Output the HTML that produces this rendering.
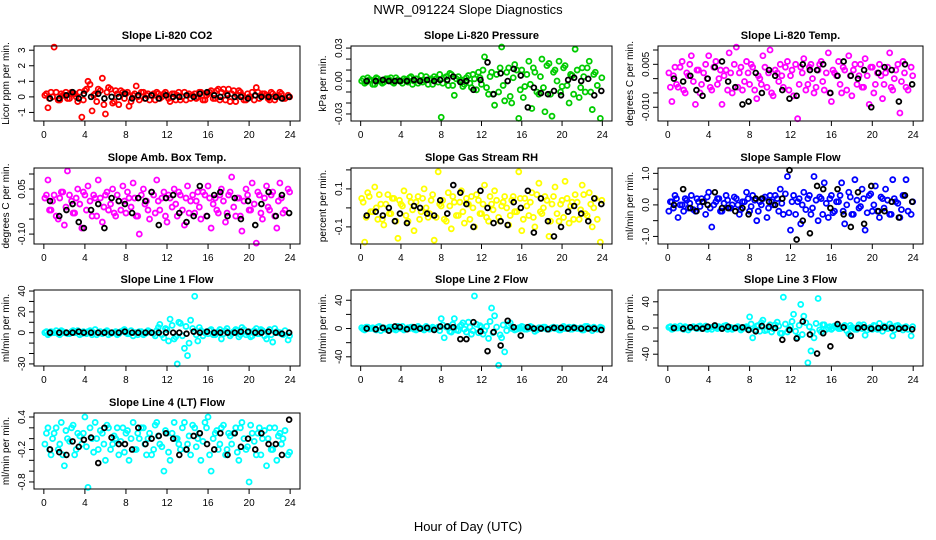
<!DOCTYPE html>
<html><head><meta charset="utf-8"><style>
body{margin:0;background:#fff}
svg{display:block;font-family:"Liberation Sans",sans-serif}
</style></head><body>
<svg id="chart" width="936" height="540" viewBox="0 0 936 540">
<text x="468" y="14" font-size="13" text-anchor="middle">NWR_091224  Slope Diagnostics</text>
<text x="468" y="531" font-size="13" text-anchor="middle">Hour of Day (UTC)</text>
</svg>
<script>
const tc=[0.1,0.4,0.7,1.0,1.4,1.7,2.0,2.3,2.7,3.0,3.3,3.7,4.0,4.3,4.7,5.0,5.3,5.7,6.0,6.3,6.7,7.0,7.3,7.7,8.0,8.3,8.7,9.0,9.3,9.7,10.0,10.3,10.7,11.0,11.3,11.7,12.0,12.3,12.7,13.0,13.3,13.7,14.0,14.3,14.7,15.0,15.3,15.7,16.0,16.3,16.7,17.0,17.3,17.7,18.0,18.3,18.7,19.0,19.3,19.7,20.0,20.3,20.7,21.0,21.3,21.7,22.0,22.3,22.7,23.0,23.3,23.8];
const tc2=[0.25,0.55,0.85,1.2,1.55,1.85,2.15,2.5,2.85,3.15,3.5,3.85,4.15,4.5,4.85,5.15,5.5,5.85,6.15,6.5,6.85,7.15,7.5,7.85,8.15,8.5,8.85,9.15,9.5,9.85,10.15,10.5,10.85,11.15,11.5,11.85,12.15,12.5,12.85,13.15,13.5,13.85,14.15,14.5,14.85,15.15,15.5,15.85,16.15,16.5,16.85,17.15,17.5,17.85,18.15,18.5,18.85,19.15,19.5,19.85,20.15,20.5,20.85,21.15,21.5,21.85,22.15,22.5,22.85,23.15,23.5,23.95];
const tb=[0.6,1.5,2.2,2.8,3.4,3.9,4.6,5.3,5.9,6.6,7.3,7.9,8.6,9.2,9.9,10.5,11.2,11.9,12.6,13.2,13.9,14.6,15.2,15.9,16.6,17.2,17.9,18.6,19.2,19.9,20.6,21.2,21.9,22.6,23.2,23.9];
const xTicks=[0,4,8,12,16,20,24];

const co2C=[0.1,-0.7,0.3,3.2,-0.2,0.2,0.1,-0.1,0.3,0.2,-0.3,-1.3,0.4,1.0,-0.9,0.2,0.5,1.2,-1.1,0.6,-0.4,0.4,-0.5,0.3,0.2,-0.6,0.1,0.7,-0.2,0.3,0.1,-0.2,0.2,0.3,-0.1,0.2,0.1,-0.3,0.2,0.1,-0.2,0.3,0.1,-0.1,0.2,0.0,0.3,-0.2,0.2,0.4,-0.1,0.5,0.3,-0.2,0.5,0.2,-0.3,0.4,0.1,-0.2,0.0,0.3,0.6,-0.1,0.2,0.1,-0.2,0.2,0.0,0.3,-0.1,0.1];
const co2D=[0.2,-0.1,0.0,0.3,-0.2,0.1,0.3,-0.1,0.2,0.0,0.3,-0.2,0.5,0.8,0.1,-0.3,0.4,-0.5,0.3,0.5,-0.3,0.2,0.4,-0.1,0.3,-0.3,0.2,0.0,0.3,-0.1,0.2,0.1,-0.2,0.2,0.0,0.3,-0.1,0.2,-0.2,0.3,0.0,-0.2,0.2,0.1,-0.1,0.3,-0.2,0.1,0.3,-0.1,0.4,-0.2,0.5,0.2,-0.3,0.4,0.1,0.3,-0.2,0.2,0.0,-0.2,0.3,0.1,0.2,-0.1,0.3,-0.2,0.1,0.2,-0.1,0.0];
const co2B=[-0.1,-0.1,0.1,0.3,-0.1,0.2,0.0,0.2,-0.1,0.0,0.0,0.2,-0.1,0.1,-0.1,0.1,-0.1,0.1,0.0,0.0,0.1,0.0,0.2,0.3,0.1,0.0,0.1,0.0,0.0,-0.1,0.1,0.0,0.0,0.0,-0.1,0.0];
const presC=[0.0,-0.002,0.003,0.001,-0.003,0.002,0.0,-0.001,0.002,0.003,-0.002,0.001,0.0,0.002,-0.001,0.004,0.0,-0.002,0.005,0.001,-0.003,0.002,0.004,-0.001,-0.033,0.003,-0.004,0.006,-0.013,0.004,0.001,-0.003,0.005,-0.006,0.002,0.008,-0.003,0.022,-0.012,0.008,-0.022,-0.01,0.031,-0.018,0.012,-0.02,0.015,-0.034,0.01,-0.005,0.018,-0.025,0.008,-0.012,0.02,-0.028,0.016,-0.032,0.01,0.018,-0.005,0.014,-0.02,0.005,0.029,-0.015,0.012,-0.01,0.018,-0.026,0.008,-0.034];
const presD=[0.002,-0.001,0.001,-0.003,0.003,0.0,-0.002,0.002,0.001,-0.001,0.003,0.0,-0.002,0.001,0.003,-0.003,0.002,0.0,-0.001,0.004,0.001,-0.003,0.002,0.006,-0.002,0.004,0.007,-0.004,0.002,0.0,-0.005,0.003,-0.002,0.006,-0.008,0.003,0.01,-0.006,0.004,-0.012,0.006,0.012,-0.004,0.008,-0.014,0.003,0.01,-0.008,-0.015,0.006,-0.003,0.012,-0.01,0.004,-0.006,0.014,-0.012,0.008,0.0,-0.01,0.012,-0.004,0.006,-0.012,0.01,-0.006,0.004,0.012,-0.01,0.006,-0.004,0.003];
const presB=[0.0,0.0,0.001,0.0,0.0,0.0,0.0,0.001,0.0,0.001,0.0,0.001,0.001,0.004,-0.001,0.0,-0.008,0.001,0.017,-0.012,0.007,0.0,0.011,0.005,-0.024,-0.006,-0.011,-0.012,-0.009,-0.013,0.001,0.003,0.0,0.002,-0.013,-0.009];
const tempC=[0.002,-0.008,0.004,-0.003,0.006,-0.005,0.001,0.008,-0.009,0.003,-0.002,0.005,0.008,-0.004,0.006,0.000,-0.009,0.003,0.009,-0.005,0.011,0.002,-0.004,0.006,-0.002,0.004,-0.007,0.0,0.008,-0.003,0.010,-0.006,0.002,0.005,-0.003,0.006,0.001,-0.006,-0.014,0.004,0.007,-0.002,0.005,-0.005,0.003,0.006,-0.004,0.009,-0.008,0.002,0.006,-0.005,0.003,0.008,-0.006,0.005,0.001,-0.003,0.007,-0.009,0.004,-0.002,0.005,-0.007,0.002,0.009,-0.004,0.003,-0.012,0.006,-0.003,0.004];
const tempD=[-0.003,0.001,-0.002,0.004,-0.004,0.002,0.005,-0.001,0.003,-0.005,0.002,0.0,-0.003,0.004,-0.002,0.003,0.001,-0.004,0.002,0.005,-0.003,0.004,-0.001,0.002,0.005,-0.004,0.001,-0.002,0.004,0.002,-0.005,0.003,-0.001,0.001,0.004,-0.004,0.003,0.005,-0.002,0.002,-0.004,0.004,0.0,-0.003,0.005,-0.001,0.002,-0.005,0.003,0.001,-0.002,0.004,-0.004,0.001,0.003,-0.002,0.005,-0.003,0.001,0.004,-0.005,0.002,0.001,-0.002,0.004,-0.003,0.0,0.005,-0.001,0.002,-0.004,0.001];
const tempB=[0.0,-0.001,0.001,-0.004,-0.006,0.0,0.004,0.006,-0.001,-0.003,-0.009,-0.008,0.002,-0.005,0.003,0.001,-0.004,-0.007,-0.006,0.005,0.003,0.003,0.005,-0.005,0.001,0.006,0.001,0.0,0.003,-0.010,0.002,0.004,0.003,-0.008,0.005,-0.002];
const ambC=[0.02,0.08,-0.02,0.03,-0.05,0.04,-0.07,0.11,0.01,-0.03,0.05,-0.08,0.03,0.06,-0.04,0.02,0.08,-0.06,0.03,-0.02,0.05,-0.04,0.01,0.06,-0.03,0.02,0.07,-0.04,-0.1,0.05,0.01,-0.05,0.03,0.08,-0.02,0.04,-0.06,0.02,0.05,-0.04,0.03,-0.07,0.06,0.01,-0.03,0.04,-0.05,0.03,0.06,-0.08,0.02,-0.03,0.05,-0.06,0.03,0.09,-0.04,0.02,-0.09,0.05,-0.02,0.07,-0.13,0.03,-0.05,0.06,-0.02,0.04,-0.08,0.07,-0.03,0.05];
const ambD=[0.03,-0.02,0.01,-0.04,0.02,0.04,-0.01,0.03,-0.03,0.02,0.0,0.04,-0.02,0.01,0.03,-0.04,0.02,-0.01,0.04,0.0,-0.03,0.03,-0.02,0.01,0.04,-0.01,0.02,-0.04,0.03,0.0,-0.02,0.04,-0.03,0.01,0.02,-0.04,0.03,-0.01,0.0,0.04,-0.02,0.02,-0.03,0.03,0.01,-0.01,0.04,-0.04,0.02,0.0,-0.02,0.03,0.01,-0.03,0.04,-0.01,0.02,-0.04,0.01,0.03,-0.02,0.0,0.04,-0.03,0.02,-0.01,0.03,-0.04,0.01,0.02,-0.02,0.04];
const ambB=[0.01,-0.04,-0.02,0.0,-0.06,-0.08,-0.02,0.0,-0.08,0.02,0.01,0.0,-0.03,0.02,0.01,0.04,-0.07,0.02,0.03,-0.03,-0.06,-0.04,0.06,-0.04,0.03,0.04,-0.04,0.02,-0.05,0.01,-0.07,0.0,0.04,-0.04,0.03,-0.03];
const rhC=[0.05,-0.18,0.08,-0.02,0.11,-0.06,0.02,-0.09,0.07,-0.03,0.05,-0.16,0.02,0.09,-0.07,0.03,-0.12,0.06,-0.02,0.1,-0.05,0.04,-0.17,0.19,0.01,-0.06,0.08,-0.11,0.03,-0.04,0.09,-0.08,0.02,0.06,-0.1,0.04,-0.03,0.12,-0.07,0.02,0.09,-0.05,0.01,0.06,-0.09,0.04,-0.02,0.19,-0.12,0.05,-0.04,0.08,-0.1,0.13,-0.03,0.06,-0.15,0.02,0.11,-0.07,0.04,0.14,-0.08,0.03,0.07,-0.06,0.12,-0.03,0.08,-0.1,0.05,-0.18];
const rhD=[0.03,-0.05,0.06,-0.02,0.0,0.07,-0.06,0.02,-0.03,0.05,-0.07,0.04,0.01,-0.04,0.06,-0.01,0.03,-0.06,0.05,0.0,-0.03,0.07,-0.05,0.02,0.04,-0.07,0.01,0.06,-0.04,0.03,-0.02,0.05,-0.06,0.0,0.07,-0.03,0.02,-0.05,0.06,-0.01,0.04,-0.07,0.03,0.0,-0.04,0.06,-0.02,0.05,-0.06,0.01,0.03,-0.05,0.07,-0.02,0.0,0.04,-0.07,0.06,-0.03,0.02,-0.05,0.05,0.01,-0.06,0.03,-0.01,0.07,-0.04,0.02,0.0,-0.06,0.04];
const rhB=[-0.04,-0.02,-0.04,0.0,-0.07,-0.03,-0.08,0.01,0.0,-0.03,-0.04,0.04,-0.03,0.12,0.08,0.02,-0.1,0.09,0.0,-0.08,-0.07,-0.09,0.03,0.0,0.09,-0.13,0.05,-0.07,-0.15,-0.1,-0.02,0.01,-0.03,-0.07,0.05,0.02];
const flowC=[-0.2,0.1,0.3,-0.4,0.0,0.2,-0.1,0.3,-0.2,0.1,0.2,-0.3,0.4,-0.7,0.1,0.2,-0.2,0.3,-0.1,0.0,0.2,-0.3,0.1,0.4,-0.2,0.3,-0.5,0.1,0.2,-0.4,0.3,0.0,0.2,0.5,-0.3,0.9,-0.8,0.3,0.1,-0.6,0.4,0.2,-0.3,0.9,-0.5,0.2,0.7,-0.4,0.3,-0.2,0.1,0.7,-0.6,0.4,-0.3,0.8,-0.1,0.5,-0.8,0.3,-0.2,0.6,-0.4,0.2,0.5,-0.3,0.8,0.1,-0.4,0.3,0.8,-0.3];
const flowD=[0.1,-0.1,0.2,0.0,-0.2,0.15,0.05,-0.15,0.2,-0.05,0.1,0.25,-0.1,0.0,0.2,-0.2,0.05,0.15,-0.1,0.25,0.0,-0.15,0.1,0.2,-0.05,0.15,-0.2,0.0,0.25,-0.1,0.1,0.3,-0.2,0.05,0.35,-0.25,0.1,-0.3,0.2,0.0,-0.15,0.3,-0.1,0.15,0.25,-0.3,0.05,0.2,-0.25,0.1,0.3,-0.2,0.0,0.25,-0.3,0.15,-0.05,0.2,-0.25,0.35,0.0,-0.2,0.25,-0.1,0.15,-0.3,0.2,0.05,-0.15,0.3,-0.2,0.1];
const flowB=[0.0,0.5,-0.1,-0.2,0.1,0.0,0.4,-0.1,-0.1,-0.2,-0.1,-0.3,0.2,0.2,0.1,0.0,0.2,1.1,-1.1,-0.5,-0.9,0.6,0.5,-0.1,0.5,-0.3,-0.7,0.4,-0.6,0.6,-0.2,-0.2,0.1,-0.4,0.3,0.1];
const l1C=[0,-2,1,0,-1,2,0,-1,1,0,2,-1,0,1,-2,3,0,-1,1,-2,0,1,-1,2,0,-1,-3,0,1,-2,0,1,-1,2,8,-5,3,13,-6,-30,9,-15,-22,12,35,-8,2,0,-1,3,-2,1,-6,2,0,-1,3,-4,5,-2,1,-3,4,-1,2,-6,3,-9,1,0,-2,-7];
const l1D=[1,-1,0,2,-2,1,0,-1,2,0,-2,1,-1,2,0,-2,1,0,2,-1,0,-2,1,3,-1,2,0,-2,1,-1,2,0,-3,5,-2,4,-8,7,-4,10,-3,6,-10,4,-2,5,-3,1,2,-2,0,3,-1,4,-3,1,2,-2,3,0,-4,2,-1,3,-3,1,-2,4,0,-1,2,-3];
const l1B=[0,0,0,0,1,0,0,0,0,0,0,1,0,0,0,0,0,0,0,0,-1,1,0,1,0,0,0,0,1,1,0,0,1,0,-1,0];
const l2C=[1,-2,2,0,-1,2,-3,1,0,2,-1,3,0,-2,1,2,-1,3,0,-2,1,0,-1,2,14,-13,3,-5,14,-3,5,-1,9,-8,46,-6,2,-3,-14,29,18,-52,-13,-33,5,0,-2,1,3,-1,0,2,-4,1,0,2,-1,1,0,-2,1,0,2,-1,1,0,-2,3,1,-3,0,2];
const l2D=[-1,2,0,1,-2,3,1,-1,2,0,-2,1,3,-1,0,2,-2,1,0,3,-1,2,0,-3,5,2,-4,6,-2,3,8,-5,2,-3,6,4,-8,3,10,-6,2,-9,5,-3,8,2,-1,0,2,-1,3,0,-2,1,2,-1,0,2,1,-2,3,0,-1,2,0,1,-2,3,0,2,-1,1];
const l2B=[0,-1,1,-3,3,2,-1,2,0,1,-2,3,3,2,-15,-15,9,-4,-32,-5,-24,11,2,-10,2,0,0,-1,1,1,0,1,0,0,0,-2];
const l3C=[1,-2,2,0,-1,2,-3,1,0,2,-1,3,0,-2,1,2,-1,4,0,-2,1,0,-1,2,17,-15,3,-5,12,-3,5,-1,9,-8,47,-6,2,21,-14,36,18,-53,-35,-15,45,-6,5,0,-2,3,-1,0,4,-9,1,-2,5,-1,-11,0,-2,3,7,-5,1,6,-12,3,1,-3,2,-12];
const l3D=[2,-1,0,3,-2,1,0,2,-1,3,0,-2,1,2,-1,0,3,-2,1,0,2,-3,1,-1,6,-3,4,8,-4,2,-6,5,3,-8,6,-2,10,-5,4,-10,8,2,-6,7,-3,5,-2,2,0,3,-1,2,-4,4,0,-2,3,5,-3,1,4,-2,0,3,-1,2,-3,4,0,1,-2,2];
const l3B=[0,-1,1,0,-1,2,4,-1,2,0,1,-3,-5,3,2,0,-18,-3,-16,10,-10,-39,-8,-28,6,1,-12,0,1,-1,0,1,0,-1,0,-2];
const l4C=[-0.1,0.2,-0.3,0.1,-0.2,0.3,-0.5,0.0,0.2,-0.3,0.1,-0.1,0.4,-0.9,0.0,0.3,-0.2,0.1,-0.4,0.2,-0.1,0.0,-0.3,0.2,0.1,-0.4,0.3,-0.2,0.0,0.2,-0.3,0.1,-0.2,0.3,-0.1,-0.6,0.1,-0.4,0.3,0.0,-0.2,0.3,-0.1,-0.3,0.2,0.0,-0.4,0.3,0.4,-0.6,0.1,-0.2,0.2,-0.3,0.1,-0.1,0.2,-0.4,0.3,-0.2,-0.8,0.1,-0.3,0.2,0.0,-0.5,0.2,-0.2,-0.4,0.1,0.0,-0.3];
const l4D=[0.1,-0.2,0.0,0.2,-0.1,-0.3,0.15,-0.05,0.25,-0.2,0.05,0.1,-0.15,0.2,-0.25,0.0,0.15,-0.1,0.25,-0.2,0.05,0.2,-0.05,-0.25,0.15,0.0,-0.2,0.1,0.2,-0.1,0.0,-0.3,0.25,0.05,-0.15,0.15,-0.25,0.1,0.0,-0.1,0.2,-0.2,0.05,0.25,-0.15,0.1,-0.05,0.2,-0.3,0.0,0.15,-0.1,0.25,-0.2,0.05,0.1,-0.25,0.2,0.0,-0.15,0.25,-0.05,0.1,-0.3,0.15,0.0,-0.2,0.2,0.05,-0.1,0.15,-0.25];
const l4B=[-0.2,-0.25,-0.3,-0.05,-0.15,-0.02,0.02,-0.45,0.2,0.02,-0.1,-0.1,-0.2,0.2,-0.1,0.0,0.05,0.1,0.0,-0.3,-0.2,0.05,0.1,-0.1,-0.2,0.1,-0.3,0.1,-0.15,0.0,-0.2,0.1,-0.1,-0.1,-0.3,0.35];

const NS='http://www.w3.org/2000/svg';
const svg=document.getElementById('chart');
function mk(tag,attrs,parent){const e=document.createElementNS(NS,tag);for(const k in attrs)e.setAttribute(k,attrs[k]);(parent||svg).appendChild(e);return e;}

const cols=[[34,300],[351,612],[658,923]];
const rows=[[46,121],[168,244],[290,366],[413,489]];
const panels=[
 {r:0,c:0,key:'co2',title:'Slope Li-820 CO2',ylab:'Licor ppm per min.',color:'#ff0000',ylim:[-1.55,3.27],yt:[-1,0,1,2,3],yl:['-1','0','1','2','3'],C:co2C,D:co2D,B:co2B},
 {r:0,c:1,key:'pressure',title:'Slope Li-820 Pressure',ylab:'kPa per min.',color:'#00cc00',ylim:[-0.0364,0.0319],yt:[-0.03,-0.02,-0.01,0,0.01,0.02,0.03],yl:['-0.03','','','0.00','','','0.03'],C:presC,D:presD,B:presB},
 {r:0,c:2,key:'temp',title:'Slope Li-820 Temp.',ylab:'degrees C per min.',color:'#ff00ff',ylim:[-0.0148,0.0114],yt:[-0.01,-0.005,0,0.005,0.01],yl:['-0.010','','','0.005',''],C:tempC,D:tempD,B:tempB},
 {r:1,c:0,key:'amb-box-temp',title:'Slope Amb. Box Temp.',ylab:'degrees C per min.',color:'#ff00ff',ylim:[-0.133,0.12],yt:[-0.1,-0.05,0,0.05,0.1],yl:['-0.10','','','0.05',''],C:ambC,D:ambD,B:ambB},
 {r:1,c:1,key:'gas-stream-rh',title:'Slope Gas Stream RH',ylab:'percent per min.',color:'#ffff00',ylim:[-0.19,0.21],yt:[-0.1,0,0.1,0.2],yl:['-0.1','','0.1',''],C:rhC,D:rhD,B:rhB},
 {r:1,c:2,key:'sample-flow',title:'Slope Sample Flow',ylab:'ml/min per min.',color:'#0000ff',ylim:[-1.24,1.17],yt:[-1,-0.5,0,0.5,1],yl:['-1.0','','0.0','','1.0'],C:flowC,D:flowD,B:flowB},
 {r:2,c:0,key:'line1-flow',title:'Slope Line 1 Flow',ylab:'ml/min per min.',color:'#00ffff',ylim:[-32,41],yt:[-30,-20,-10,0,10,20,30,40],yl:['-30','','','0','','20','','40'],C:l1C,D:l1D,B:l1B},
 {r:2,c:1,key:'line2-flow',title:'Slope Line 2 Flow',ylab:'ml/min per min.',color:'#00ffff',ylim:[-53,54.5],yt:[-40,-20,0,20,40],yl:['-40','','0','','40'],C:l2C,D:l2D,B:l2B},
 {r:2,c:2,key:'line3-flow',title:'Slope Line 3 Flow',ylab:'ml/min per min.',color:'#00ffff',ylim:[-58,58],yt:[-40,-20,0,20,40],yl:['-40','','0','','40'],C:l3C,D:l3D,B:l3B},
 {r:3,c:0,key:'line4-flow',title:'Slope Line 4 (LT) Flow',ylab:'ml/min per min.',color:'#00ffff',ylim:[-0.93,0.474],yt:[-0.8,-0.6,-0.4,-0.2,0,0.2,0.4],yl:['-0.8','','','-0.2','','','0.4'],C:l4C,D:l4D,B:l4B}
];

panels.forEach(p=>{
  const [L,R]=cols[p.c],[T,B]=rows[p.r];
  const g=mk('g',{});
  
  
  const xs=h=>L+(R-L)*(h+0.96)/25.92;
  const ys=v=>B-(B-T)*(v-p.ylim[0])/(p.ylim[1]-p.ylim[0]);
  const t=mk('text',{x:(L+R)/2,y:T-7,'font-size':11,'font-weight':'bold','text-anchor':'middle'},g);
  t.textContent=p.title;
  
  
  const cx=L-25,cy=(T+B)/2;
  const yl=mk('text',{x:cx,y:cy,'font-size':10,'text-anchor':'middle',transform:`rotate(-90 ${cx} ${cy})`},g);
  yl.textContent=p.ylab;
  
  
  const pc=mk('g',{fill:'none',stroke:p.color,'stroke-width':1.8},g);
  
  
  const n=Math.min(tc.length,p.C.length);
  for(let i=0;i<n;i++){
    const c=mk('circle',{cx:xs(tc[i]),cy:ys(p.C[i]),r:2.5},pc);
    
    
  }
  const n2=Math.min(tc2.length,p.D.length);
  for(let i=0;i<n2;i++){
    const c=mk('circle',{cx:xs(tc2[i]),cy:ys(p.D[i]),r:2.5},pc);
    
    
  }
  const pb=mk('g',{fill:'none',stroke:'#000','stroke-width':1.8},g);
  
  
  const m=Math.min(tb.length,p.B.length);
  for(let i=0;i<m;i++){
    const c=mk('circle',{cx:xs(tb[i]),cy:ys(p.B[i]),r:2.4},pb);
    
    
  }
  const box=mk('rect',{x:L,y:T,width:R-L,height:B-T,fill:'none',stroke:'#000','stroke-width':1},g);
  
  
  const xa=mk('g',{stroke:'#000','stroke-width':1},g);
  
  
  xTicks.forEach(h=>{
    const x=xs(h);
    const tk=mk('line',{x1:x,x2:x,y1:B,y2:B+5},xa);
    
    
    const lb=mk('text',{x:x,y:B+17,'font-size':10,'text-anchor':'middle',stroke:'none'},xa);
    lb.textContent=h;
    
    
  });
  const ya=mk('g',{stroke:'#000','stroke-width':1},g);
  
  
  p.yt.forEach((v,i)=>{
    const y=ys(v);
    const tk=mk('line',{x1:L-5,x2:L,y1:y,y2:y},ya);
    
    
    if(p.yl[i]){
      const lx=L-9;
      const lb=mk('text',{x:lx,y:y,'font-size':10,'text-anchor':'middle',stroke:'none',transform:`rotate(-90 ${lx} ${y})`},ya);
      lb.textContent=p.yl[i];
      
      
    }
  });
});
</script>
</body></html>
